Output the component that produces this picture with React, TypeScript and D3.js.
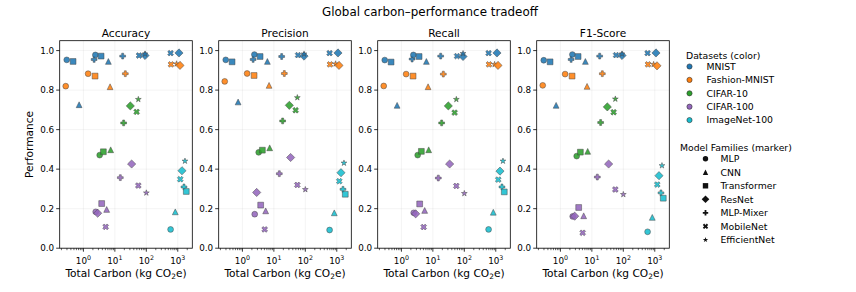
import React from "react";
import * as d3 from "d3";

const metricNames = ["Accuracy", "Precision", "Recall", "F1-Score"];
const datasets = ["MNIST", "Fashion-MNIST", "CIFAR-10", "CIFAR-100", "ImageNet-100"];
const datasetColors = ["#1f77b4", "#ff7f0e", "#2ca02c", "#9467bd", "#17becf"];
const families = ["MLP", "CNN", "Transformer", "ResNet", "MLP-Mixer", "MobileNet", "EfficientNet"];

// one entry per run
const pointDataset = [
  0, 0, 0, 0, 0, 0, 0, 0, 0, 0, 0, 0, 0,
  1, 1, 1, 1, 1, 1, 1, 1,
  2, 2, 2, 2, 2, 2, 2,
  3, 3, 3, 3, 3, 3, 3, 3, 3,
  4, 4, 4, 4, 4, 4, 4,
];
const pointFamily = [
  "MLP", "Transformer", "CNN", "MLP-Mixer", "MLP", "Transformer", "CNN", "MLP-Mixer", "MobileNet", "ResNet", "EfficientNet", "MobileNet", "ResNet",
  "MLP", "MLP", "Transformer", "CNN", "MLP-Mixer", "MobileNet", "EfficientNet", "ResNet",
  "EfficientNet", "ResNet", "MobileNet", "MLP-Mixer", "MLP", "Transformer", "CNN",
  "ResNet", "MLP-Mixer", "MobileNet", "EfficientNet", "Transformer", "MLP", "ResNet", "CNN", "MobileNet",
  "EfficientNet", "ResNet", "MobileNet", "MLP-Mixer", "Transformer", "CNN", "MLP",
];
const pointCarbon = [
  0.295, 0.47, 0.73, 2.19, 2.4, 3.65, 6.22, 17.7, 58.6, 91, 91, 591, 1092,
  0.274, 1.41, 2.35, 7.04, 21.5, 608, 916, 1175,
  55.7, 31, 49.2, 19, 3.29, 4.31, 7.36,
  34.1, 14.9, 55.7, 100, 3.81, 2.46, 2.84, 5.49, 5.1,
  1693, 1360, 1200, 1573, 1862, 833, 591,
];
const accuracy = [
  0.953, 0.945, 0.726, 0.955, 0.978, 0.972, 0.945, 0.972, 0.975, 0.975, 0.983, 0.987, 0.988,
  0.82, 0.883, 0.871, 0.817, 0.883, 0.93, 0.933, 0.925,
  0.753, 0.72, 0.69, 0.634, 0.471, 0.488, 0.498,
  0.426, 0.357, 0.317, 0.28, 0.226, 0.184, 0.177, 0.196, 0.108,
  0.441, 0.392, 0.349, 0.31, 0.287, 0.184, 0.095,
];
const precision = [
  0.953, 0.943, 0.74, 0.955, 0.98, 0.97, 0.945, 0.97, 0.977, 0.972, 0.983, 0.987, 0.988,
  0.844, 0.884, 0.874, 0.824, 0.884, 0.93, 0.933, 0.925,
  0.762, 0.723, 0.698, 0.644, 0.485, 0.496, 0.508,
  0.459, 0.377, 0.32, 0.297, 0.218, 0.172, 0.282, 0.189, 0.095,
  0.431, 0.382, 0.339, 0.298, 0.273, 0.179, 0.092,
];
const recall = [
  0.952, 0.942, 0.723, 0.957, 0.978, 0.97, 0.945, 0.972, 0.972, 0.97, 0.985, 0.987, 0.988,
  0.821, 0.881, 0.871, 0.817, 0.881, 0.93, 0.93, 0.925,
  0.753, 0.72, 0.686, 0.634, 0.471, 0.49, 0.498,
  0.426, 0.355, 0.315, 0.277, 0.224, 0.179, 0.174, 0.191, 0.107,
  0.441, 0.39, 0.347, 0.31, 0.285, 0.182, 0.095,
];
const f1Score = [
  0.951, 0.943, 0.723, 0.955, 0.98, 0.97, 0.945, 0.972, 0.977, 0.975, 0.983, 0.987, 0.988,
  0.824, 0.881, 0.871, 0.819, 0.883, 0.93, 0.93, 0.923,
  0.755, 0.715, 0.688, 0.636, 0.466, 0.486, 0.49,
  0.426, 0.36, 0.297, 0.272, 0.206, 0.161, 0.162, 0.164, 0.078,
  0.418, 0.367, 0.322, 0.28, 0.253, 0.156, 0.083,
];
const yTicks = [0, 0.2, 0.4, 0.6, 0.8, 1.0];
const xTickExponents = [0, 1, 2, 3];

const metricValues = [accuracy, precision, recall, f1Score];

const W = 856;
const H = 292;
const PANEL_LEFT = 59.7;
const PANEL_STEP = 159;
const PANEL_W = 132.6;
const PANEL_TOP = 40.7;
const PANEL_BOTTOM = 248.2;
const FONT = "DejaVu Sans, sans-serif";

function markerPath(fam: string, s: number): string {
  const h = s / 2;
  const poly = (pts: number[][], k: number) =>
    "M" + pts.map((p) => `${(p[0] * k).toFixed(3)},${(p[1] * k).toFixed(3)}`).join("L") + "Z";
  switch (fam) {
    case "MLP":
      return `M${h},0A${h},${h} 0 1,1 ${-h},0A${h},${h} 0 1,1 ${h},0Z`;
    case "CNN":
      return poly([[0, -1], [1, 1], [-1, 1]], h);
    case "Transformer":
      return poly([[-1, -1], [1, -1], [1, 1], [-1, 1]], h);
    case "ResNet": {
      const d = s * Math.SQRT1_2;
      return poly([[0, -1], [1, 0], [0, 1], [-1, 0]], d);
    }
    case "MLP-Mixer":
      return poly(
        [[-1, -3], [1, -3], [1, -1], [3, -1], [3, 1], [1, 1], [1, 3], [-1, 3], [-1, 1], [-3, 1], [-3, -1], [-1, -1]],
        s / 6
      );
    case "MobileNet":
      return poly(
        [[-1, -2], [0, -1], [1, -2], [2, -1], [1, 0], [2, 1], [1, 2], [0, 1], [-1, 2], [-2, 1], [-1, 0], [-2, -1]],
        s / 4
      );
    case "EfficientNet": {
      const pts: number[][] = [];
      for (let i = 0; i < 10; i++) {
        const r = i % 2 === 0 ? 1 : 0.381966;
        const a = (Math.PI / 5) * i - Math.PI / 2;
        pts.push([r * Math.cos(a), r * Math.sin(a)]);
      }
      return poly(pts, h * 1.05);
    }
  }
  return "";
}

const MARKER_SIZE = 5.8;

function Panel({ index }: { index: number }) {
  const x0 = PANEL_LEFT + index * PANEL_STEP;
  const lmin = Math.log10(d3.min(pointCarbon) as number);
  const lmax = Math.log10(d3.max(pointCarbon) as number);
  const pad = (lmax - lmin) * 0.05;
  const x = d3.scaleLog().domain([10 ** (lmin - pad), 10 ** (lmax + pad)]).range([x0, x0 + PANEL_W]);
  const y = d3.scaleLinear().domain([0, 1.05]).range([PANEL_BOTTOM, PANEL_TOP]);
  const [dlo, dhi] = x.domain();
  const minor: number[] = [];
  for (let k = -2; k <= 4; k++) {
    for (let m = 2; m <= 9; m++) {
      const v = m * 10 ** k;
      if (v >= dlo && v <= dhi) minor.push(v);
    }
  }
  const vals = metricValues[index];
  const cx = x0 + PANEL_W / 2;
  return (
    <g>
      {/* grid */}
      {xTickExponents.map((e) => (
        <line key={"gx" + e} x1={x(10 ** e)} x2={x(10 ** e)} y1={PANEL_TOP} y2={PANEL_BOTTOM} stroke="#b0b0b0" strokeOpacity={0.18} strokeWidth={0.8} />
      ))}
      {yTicks.map((t) => (
        <line key={"gy" + t} x1={x0} x2={x0 + PANEL_W} y1={y(t)} y2={y(t)} stroke="#b0b0b0" strokeOpacity={0.18} strokeWidth={0.8} />
      ))}
      {/* points */}
      {pointCarbon.map((c, i) => (
        <path
          key={i}
          d={markerPath(pointFamily[i], MARKER_SIZE)}
          transform={`translate(${x(c)},${y(vals[i])})`}
          fill={datasetColors[pointDataset[i]]}
          fillOpacity={0.88}
          stroke="#4a4a4a"
          strokeOpacity={0.85}
          strokeWidth={0.6}
        />
      ))}
      {/* frame */}
      <rect x={x0} y={PANEL_TOP} width={PANEL_W} height={PANEL_BOTTOM - PANEL_TOP} fill="none" stroke="#000" strokeWidth={0.8} />
      {/* y ticks */}
      {yTicks.map((t) => (
        <g key={"yt" + t}>
          <line x1={x0 - 3.5} x2={x0} y1={y(t)} y2={y(t)} stroke="#000" strokeWidth={0.8} />
          <text x={x0 - 5.5} y={y(t) + 3.2} fontSize={8.8} textAnchor="end" fontFamily={FONT} fill="#000">
            {t.toFixed(1)}
          </text>
        </g>
      ))}
      {/* x ticks */}
      {minor.map((v) => (
        <line key={"mn" + v} x1={x(v)} x2={x(v)} y1={PANEL_BOTTOM} y2={PANEL_BOTTOM + 2} stroke="#000" strokeWidth={0.6} />
      ))}
      {xTickExponents.map((e) => (
        <g key={"xt" + e}>
          <line x1={x(10 ** e)} x2={x(10 ** e)} y1={PANEL_BOTTOM} y2={PANEL_BOTTOM + 3.5} stroke="#000" strokeWidth={0.8} />
          <text x={x(10 ** e)} y={PANEL_BOTTOM + 15.5} fontSize={8.8} textAnchor="middle" fontFamily={FONT} fill="#000">
            10
            <tspan fontSize={6.3} dy={-4}>
              {e}
            </tspan>
          </text>
        </g>
      ))}
      <text x={cx} y={36.5} fontSize={10.6} textAnchor="middle" fontFamily={FONT} fill="#000">
        {metricNames[index]}
      </text>
      <text x={cx} y={276.5} fontSize={10.6} textAnchor="middle" fontFamily={FONT} fill="#000">
        Total Carbon (kg CO
        <tspan fontSize={7.4} dy={2.5}>2</tspan>
        <tspan dy={-2.5}>e)</tspan>
      </text>
    </g>
  );
}

export default function App() {
  return (
    <svg width={W} height={H} style={{ position: "absolute", left: 0, top: 0, background: "#fff" }} fontFamily={FONT}>
      <rect x={0} y={0} width={W} height={H} fill="#fff" />
      <text x={430} y={16} fontSize={11.9} textAnchor="middle" fill="#000">
        Global carbon–performance tradeoff
      </text>
      <text transform={`translate(32.5,${(PANEL_TOP + PANEL_BOTTOM) / 2}) rotate(-90)`} fontSize={10.6} textAnchor="middle" fill="#000">
        Performance
      </text>
      {metricNames.map((m, i) => (
        <Panel key={m} index={i} />
      ))}
      {/* legend: datasets */}
      <text x={686} y={58.5} fontSize={9.3} fill="#000">Datasets (color)</text>
      {datasets.map((d, i) => (
        <g key={d}>
          <circle cx={689.5} cy={66.5 + i * 13.4} r={2.6} fill={datasetColors[i]} stroke="#333" strokeWidth={0.6} />
          <text x={706.5} y={66.5 + i * 13.4 + 3.3} fontSize={9.3} fill="#000">{d}</text>
        </g>
      ))}
      {/* legend: families */}
      <text x={680} y={151} fontSize={9.3} fill="#000">Model Families (marker)</text>
      {families.map((f, i) => (
        <g key={f}>
          <path d={markerPath(f, 5.4)} transform={`translate(705.5,${158.8 + i * 13.5})`} fill="#111" />
          <text x={720.5} y={158.8 + i * 13.5 + 3.3} fontSize={9.3} fill="#000">{f}</text>
        </g>
      ))}
    </svg>
  );
}
